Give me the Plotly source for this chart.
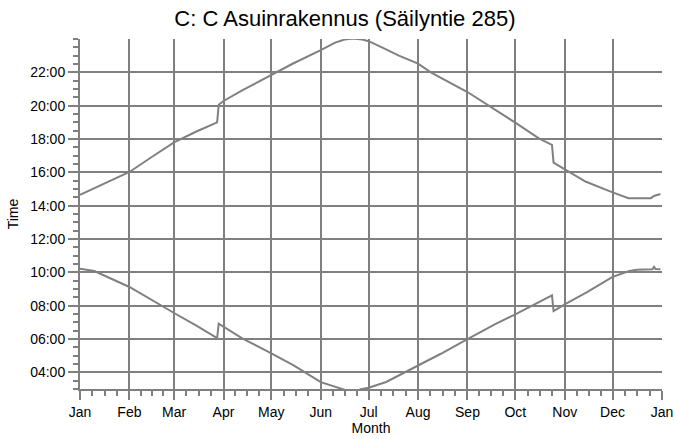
import pandas as pd
import plotly.graph_objects as go

# ---- data (hours of day, decimal) ----
sunset_dates = ["2015-01-01", "2015-01-16", "2015-02-01", "2015-02-15", "2015-03-01",
                "2015-03-15", "2015-03-28", "2015-03-29", "2015-04-01",
                "2015-04-13", "2015-05-01", "2015-05-14", "2015-06-01", "2015-06-10",
                "2015-06-16", "2015-06-21", "2015-06-27", "2015-07-01", "2015-07-10",
                "2015-07-20", "2015-08-01", "2015-08-09", "2015-09-01", "2015-09-19",
                "2015-10-01", "2015-10-16", "2015-10-24", "2015-10-25", "2015-11-01",
                "2015-11-14", "2015-12-01", "2015-12-11", "2015-12-25", "2015-12-27",
                "2015-12-31"]
sunset_hours = [14.65, 15.30, 16.02, 16.92, 17.80,
                18.45, 19.00, 20.06, 20.28,
                20.93, 21.82, 22.50, 23.33, 23.78,
                23.97, 24.03, 23.97, 23.87, 23.47,
                23.00, 22.52, 22.00, 20.82, 19.74,
                18.98, 18.02, 17.65, 16.58, 16.17,
                15.45, 14.80, 14.45, 14.45, 14.58,
                14.70]

sunrise_dates = ["2015-01-01", "2015-01-10", "2015-02-01", "2015-02-15", "2015-03-01",
                 "2015-03-15", "2015-03-28", "2015-03-29", "2015-04-01", "2015-04-13",
                 "2015-05-01", "2015-05-15", "2015-06-01", "2015-06-14", "2015-06-21",
                 "2015-06-26", "2015-07-01", "2015-07-12", "2015-07-24", "2015-08-01",
                 "2015-08-15", "2015-09-01", "2015-09-19", "2015-10-01", "2015-10-16",
                 "2015-10-24", "2015-10-25", "2015-11-01", "2015-11-15", "2015-12-01",
                 "2015-12-11", "2015-12-16", "2015-12-26", "2015-12-27", "2015-12-28",
                 "2015-12-31"]
sunrise_hours = [10.22, 10.08, 9.12, 8.32, 7.56,
                 6.80, 6.05, 6.92, 6.74, 6.02,
                 5.14, 4.42, 3.41, 2.98, 2.80,
                 2.98, 3.08, 3.42, 4.00, 4.41,
                 5.10, 6.00, 6.92, 7.48, 8.20,
                 8.62, 7.68, 8.08, 8.81, 9.73,
                 10.06, 10.16, 10.18, 10.33, 10.20,
                 10.19]

month_labels = ["Jan", "Feb", "Mar", "Apr", "May", "Jun", "Jul", "Aug",
                "Sep", "Oct", "Nov", "Dec", "Jan"]
y_tick_values = [4, 6, 8, 10, 12, 14, 16, 18, 20, 22]
y_tick_labels = ["04:00", "06:00", "08:00", "10:00", "12:00", "14:00",
                 "16:00", "18:00", "20:00", "22:00"]

title_text = "C: C Asuinrakennus (Säilyntie 285)"

# ---- build ----
GRAY = "#808080"
month_starts = pd.date_range("2015-01-01", "2016-01-01", freq="MS")
minor_vals = []
for s, e in zip(month_starts[:-1], month_starts[1:]):
    for k in (1, 2, 3):
        minor_vals.append(s + (e - s) * k / 4)

fig = go.Figure()
fig.add_trace(go.Scatter(x=pd.to_datetime(sunset_dates), y=sunset_hours, mode="lines",
                         line=dict(color=GRAY, width=2), showlegend=False))
fig.add_trace(go.Scatter(x=pd.to_datetime(sunrise_dates), y=sunrise_hours, mode="lines",
                         line=dict(color=GRAY, width=2), showlegend=False))

font = "Liberation Sans, Arial, sans-serif"
fig.update_layout(
    width=675, height=439,
    margin=dict(l=80, r=13, t=39, b=50, autoexpand=False),
    paper_bgcolor="white", plot_bgcolor="white",
    font=dict(family=font, size=14, color="black"),
    title=dict(text=title_text, x=0.511, xanchor="center", y=0.958, yanchor="middle",
               font=dict(family=font, size=22, color="black")),
    showlegend=False,
)
fig.update_xaxes(
    type="date", range=[month_starts[0], month_starts[-1]], automargin=False,
    tickmode="array", tickvals=list(month_starts), ticktext=month_labels,
    showgrid=True, gridcolor=GRAY, gridwidth=2,
    showline=True, linecolor=GRAY, linewidth=2,
    ticks="outside", ticklen=9, tickwidth=2, tickcolor=GRAY,
    minor=dict(tickvals=minor_vals, ticks="outside", ticklen=5, tickwidth=1.5,
               tickcolor=GRAY, showgrid=False),
    title=dict(text="Month", font=dict(size=14), standoff=1),
    tickfont=dict(size=14), zeroline=False,
)
fig.update_yaxes(
    range=[3, 24], automargin=False,
    tickmode="array", tickvals=y_tick_values, ticktext=y_tick_labels,
    showgrid=True, gridcolor=GRAY, gridwidth=2,
    showline=True, linecolor=GRAY, linewidth=2,
    ticks="outside", ticklen=10, tickwidth=2, tickcolor=GRAY,
    minor=dict(tick0=0, dtick=0.5, ticks="outside", ticklen=5, tickwidth=1.5,
               tickcolor=GRAY, showgrid=False),
    title=dict(text="Time", font=dict(size=14), standoff=8),
    tickfont=dict(size=14), zeroline=False,
)

fig.write_html("out.html", config={"displayModeBar": False},
               post_script="document.body.style.margin='0';")
